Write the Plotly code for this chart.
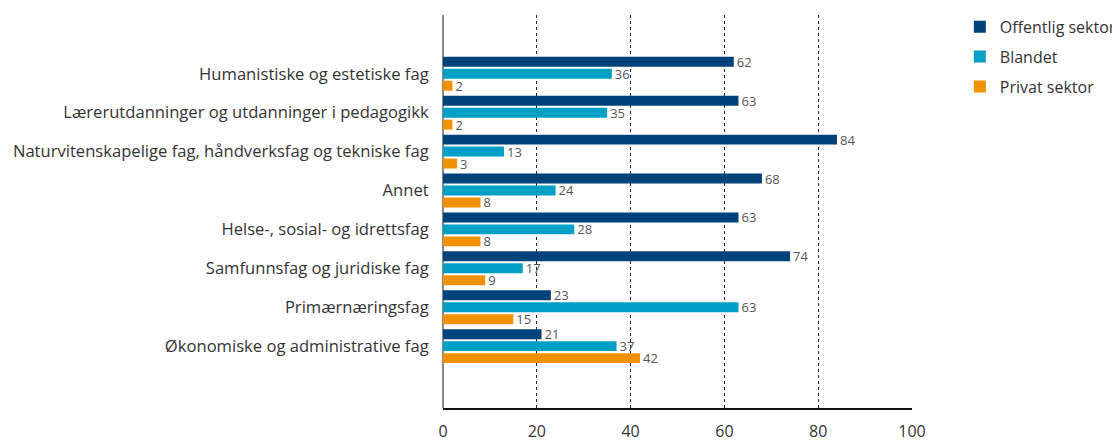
import plotly.graph_objects as go

categories = [
    "Humanistiske og estetiske fag",
    "Lærerutdanninger og utdanninger i pedagogikk",
    "Naturvitenskapelige fag, håndverksfag og tekniske fag",
    "Annet",
    "Helse-, sosial- og idrettsfag",
    "Samfunnsfag og juridiske fag",
    "Primærnæringsfag",
    "Økonomiske og administrative fag",
]
offentlig = [62, 63, 84, 68, 63, 74, 23, 21]
blandet = [36, 35, 13, 24, 28, 17, 63, 37]
privat = [2, 2, 3, 8, 8, 9, 15, 42]

series = [
    ("Offentlig sektor", offentlig, "#00427A"),
    ("Blandet", blandet, "#00A0C6"),
    ("Privat sektor", privat, "#F39200"),
]

FONT = "Open Sans"
fig = go.Figure()
for name, vals, color in series:
    fig.add_trace(go.Bar(
        y=categories, x=vals, name=name, orientation="h",
        legendgroup=name,
        marker=dict(color=color, line=dict(width=0)),
        text=[str(v) for v in vals], textposition="outside",
        textfont=dict(size=13, color="#555555", family=FONT),
        cliponaxis=False, constraintext="none",
    ))

# page has an 8px body margin; figure is sized/placed to compensate
fig.update_layout(
    width=1112, height=433,
    margin=dict(l=435, r=208, t=7, b=33, autoexpand=False),
    plot_bgcolor="white", paper_bgcolor="white",
    barmode="group", bargap=0.077, bargroupgap=0.17,
    font=dict(family=FONT, color="#333333"),
    showlegend=True,
    legend=dict(x=1.102, y=1.013, xanchor="left", yanchor="top",
                font=dict(size=16, color="#333333", family=FONT),
                traceorder="grouped", itemwidth=30, tracegroupgap=6),
)
fig.update_xaxes(
    range=[0, 100], tickvals=[0, 20, 40, 60, 80, 100],
    showgrid=True, gridcolor="#222222", griddash="dot", gridwidth=1,
    zeroline=True, zerolinecolor="#888888", zerolinewidth=2,
    showline=True, linecolor="#111111", linewidth=1.5,
    ticks="outside", ticklen=8, tickcolor="rgba(0,0,0,0)",
    tickfont=dict(size=16, color="#333333", family=FONT),
    automargin=False,
)
fig.update_yaxes(
    type="category", range=[8.59, -1.51],
    showgrid=False, zeroline=False, showline=False,
    ticks="outside", ticklen=10, tickcolor="rgba(0,0,0,0)",
    tickfont=dict(size=16.6, color="#333333", family=FONT),
    automargin=False,
)
fig.write_html("out.html")
